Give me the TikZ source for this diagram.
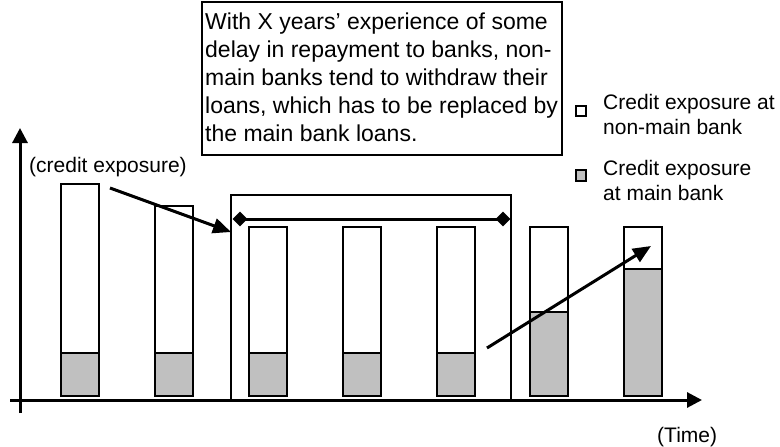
\documentclass[tikz,border=0pt]{standalone}
\usepackage{fontspec}
\setmainfont{Liberation Sans}
\usetikzlibrary{arrows.meta,shapes.geometric}
\definecolor{barfill}{RGB}{192,192,192}
\begin{document}
\begin{tikzpicture}[x=1pt,y=-1pt,
  barline/.style={draw=black,line width=2pt},
  axisline/.style={draw=black,line width=3pt,-{Triangle[length=15pt,width=15pt]}},
  trend/.style={draw=black,line width=3pt,-{Triangle[length=18pt,width=15pt]}},
  tick/.style={diamond,fill=black,minimum size=15pt,inner sep=0pt},
  lbl/.style={font=\fontsize{21}{25}\selectfont,inner sep=0pt,align=left},
  legsq/.style={draw=black,line width=1.6pt,minimum size=10.5pt,inner sep=0pt}]
\useasboundingbox (0,0) rectangle (780,447);

% stacked bars: white = non-main bank, grey = main bank
\foreach \xl/\tp/\gt in {61/184/353,155/206/353,249/227/353,343/227/353,
                          437/227/353,530/227/312,624/227/269}{
  \draw[barline,fill=white] (\xl,\tp) rectangle (\xl+38,396);
  \draw[barline,fill=barfill] (\xl,\gt) rectangle (\xl+38,396);
}

% frame around the repayment-delay period
\draw[draw=black,line width=1.8pt] (231,195) rectangle (511,400);
\node[tick] (dl) at (240,219) {};
\node[tick] (dr) at (503,219) {};
\draw[line width=3pt] (dl.center) -- (dr.center);

% axes
\coordinate (ybot) at (20,413);
\coordinate (ytop) at (20,128);
\coordinate (xleft) at (10,400);
\coordinate (xright) at (702,400);
\draw[axisline] (ybot) -- (ytop);
\draw[axisline] (xleft) -- (xright);

% trend arrows
\coordinate (a1s) at (110,188);
\coordinate (a1e) at (231,232);
\coordinate (a2s) at (487,348);
\coordinate (a2e) at (651,246);
\draw[trend] (a1s) -- (a1e);
\draw[trend] (a2s) -- (a2e);

% axis labels
\node[lbl,anchor=west] (ylab) at (29,167) {(credit exposure)};
\node[lbl,anchor=west] (xlab) at (657,437) {(Time)};

% explanatory note
\node[draw=black,line width=1.5pt,minimum width=360pt,minimum height=153pt] (note) at (382,78.5) {};
\node[anchor=north west,inner sep=0pt,align=left,
      font=\fontsize{23}{28}\selectfont] (notetext) at (205,12.5)
  {With X years’ experience of some\\
   delay in repayment to banks, non-\\
   main banks tend to withdraw their\\
   loans, which has to be replaced by\\
   the main bank loans.};

% legend
\node[legsq,fill=white] (legw) at (581,111) {};
\node[legsq,fill=barfill] (legg) at (581,175.5) {};
\node[lbl,anchor=west] (legwt) at (603,114.5) {Credit exposure at\\non-main bank};
\node[lbl,anchor=west] (leggt) at (603,180.5) {Credit exposure\\at main bank};
\end{tikzpicture}
\end{document}
